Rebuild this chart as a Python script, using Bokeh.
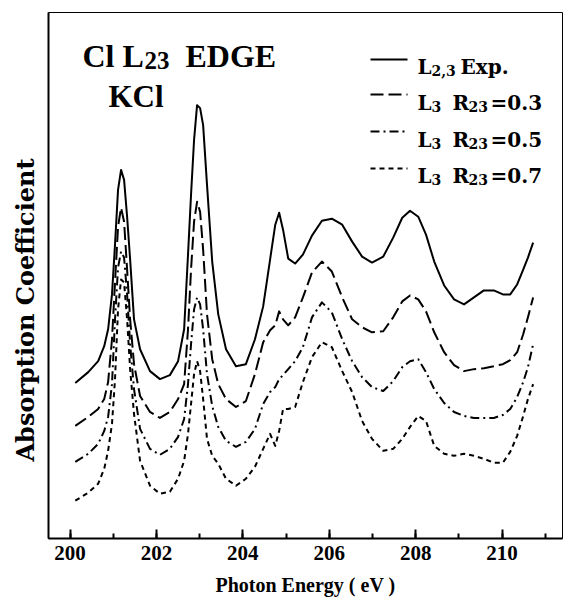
from bokeh.plotting import figure
from bokeh.models import Range1d, SingleIntervalTicker, FixedTicker, Label, Arrow, Title
from bokeh.embed import file_html
from bokeh.resources import INLINE

# ---- data (arbitrary absorption units) ----
energy = [200.12, 200.42, 200.65, 200.79, 200.88, 200.97, 201.04, 201.11, 201.18, 201.25,
          201.32, 201.39, 201.48, 201.62, 201.85, 202.08, 202.31, 202.50, 202.64, 202.73,
          202.80, 202.87, 202.94, 203.01, 203.08, 203.17, 203.29, 203.43, 203.61, 203.84,
          204.07, 204.28, 204.47, 204.63, 204.75, 204.84, 204.93, 205.05, 205.21, 205.39,
          205.60, 205.83, 206.06, 206.30, 206.53, 206.76, 206.99, 207.25, 207.48, 207.69,
          207.87, 208.06, 208.24, 208.43, 208.66, 208.89, 209.12, 209.35, 209.58, 209.81,
          210.02, 210.19, 210.35, 210.49, 210.60, 210.72]

exp_l23 = [156, 167, 178, 193, 210, 245, 295, 350, 370, 360,
           323, 280, 220, 190, 168, 160, 164, 178, 210, 285,
           345, 400, 435, 432, 415, 355, 278, 225, 190, 173,
           175, 200, 233, 280, 315, 327, 310, 281, 276, 285,
           304, 319, 321, 315, 298, 283, 277, 283, 302, 322,
           329, 323, 305, 278, 254, 240, 235, 242, 249, 249,
           245, 245, 255, 270, 282, 297]

l3_r03 = [113, 122, 130, 140, 157, 200, 257, 313, 332, 318,
          270, 220, 175, 143, 127, 121, 127, 140, 155, 210,
          270, 318, 338, 328, 290, 225, 180, 155, 140, 132,
          138, 165, 197, 209, 214, 228, 220, 214, 222, 242,
          267, 278, 268, 242, 220, 212, 207, 208, 222, 238,
          244, 240, 228, 207, 187, 174, 168, 170, 171, 173,
          175, 179, 187, 205, 222, 242]

l3_r05 = [77, 85, 95, 108, 122, 155, 220, 272, 288, 282,
          245, 195, 150, 110, 90, 84, 90, 102, 120, 155,
          195, 230, 242, 235, 210, 165, 133, 112, 98, 92,
          97, 110, 135, 147, 152, 160, 164, 170, 178, 192,
          222, 237, 227, 200, 178, 162, 152, 148, 158, 172,
          178, 180, 167, 150, 136, 127, 123, 121, 121, 121,
          124, 130, 142, 157, 172, 195]

l3_r07 = [38, 46, 55, 70, 88, 115, 160, 230, 260, 257,
          220, 170, 125, 78, 53, 45, 47, 60, 78, 105,
          135, 165, 178, 168, 140, 100, 83, 75, 60, 53,
          60, 72, 90, 105, 93, 108, 130, 130, 132, 157,
          182, 197, 192, 168, 147, 118, 100, 88, 90, 100,
          112, 123, 118, 93, 85, 83, 85, 83, 80, 76,
          76, 87, 103, 123, 140, 155]

# legend texts: (text, main or subscript) pieces
legend_rows = [
    [("L", "main"), ("2,3", "sub"), ("Exp.", "main")],
    [("L", "main"), ("3", "sub"), ("R", "main"), ("23", "sub"), ("=0.3", "main")],
    [("L", "main"), ("3", "sub"), ("R", "main"), ("23", "sub"), ("=0.5", "main")],
    [("L", "main"), ("3", "sub"), ("R", "main"), ("23", "sub"), ("=0.7", "main")],
]
series_dash = ["solid", "13 5", "9 4 2 4", "5 4"]
x_title = "Photon Energy ( eV )"
y_title = "Absorption Coefficient"

SERIF = "Liberation Serif"
WIDE = "DejaVu Serif"

p = figure(width=564, height=598, output_backend="svg", toolbar_location=None,
           x_range=Range1d(199.5, 211.40), y_range=Range1d(0, 528),
           min_border_left=48, min_border_right=2, min_border_top=12, min_border_bottom=58)
p.grid.visible = False
p.outline_line_color = "black"
p.outline_line_width = 1
p.background_fill_color = "white"
p.border_fill_color = "white"

common = dict(line_color="black", line_width=2, line_join="round")
for ys, dash in zip([exp_l23, l3_r03, l3_r05, l3_r07], series_dash):
    p.line(energy, ys, line_dash=dash, **common)

xa = p.xaxis[0]
xa.ticker = SingleIntervalTicker(interval=2, num_minor_ticks=2)
xa.major_tick_in = 9
xa.major_tick_out = 0
xa.minor_tick_in = 5
xa.minor_tick_out = 0
xa.axis_line_width = 2
xa.major_tick_line_width = 2
xa.minor_tick_line_width = 2
xa.major_label_text_font = SERIF
xa.major_label_text_font_style = "bold"
xa.major_label_text_font_size = "21px"
xa.major_label_text_color = "black"
xa.major_label_standoff = 7
xa.axis_label = x_title
xa.axis_label_text_font = SERIF
xa.axis_label_text_font_style = "bold"
xa.axis_label_text_font_size = "20px"
xa.axis_label_text_color = "black"
xa.axis_label_standoff = 11

ya = p.yaxis[0]
ya.ticker = FixedTicker(ticks=[])
ya.axis_line_width = 2
ya.major_tick_in = 0
ya.major_tick_out = 0
ya.minor_tick_in = 0
ya.minor_tick_out = 0

p.add_layout(Title(text=y_title, align="left", offset=77, standoff=17,
                   text_font=WIDE, text_font_style="bold", text_font_size="24px",
                   text_color="black"), "left")

def lab(x, y, t, size, font=SERIF):
    p.add_layout(Label(x=x, y=y, x_units="screen", y_units="screen", text=t,
                       text_font=font, text_font_style="bold", text_font_size=size,
                       text_align="left", text_baseline="alphabetic", text_color="black"))

# title "Cl L23 EDGE" / "KCl"
lab(34, 483, "Cl L", "32px")
lab(96, 478, "23", "25px")
lab(137, 483, "EDGE", "32px")
lab(60, 442, "KCl", "31px")

# legend (samples + texts)
line_y = [479, 444, 407, 370]
base_y = [472, 436, 399, 363]
piece_x = [[369, 383, 412], [369, 383, 404, 420, 442]]
for i, (row, dash) in enumerate(zip(legend_rows, series_dash)):
    p.add_layout(Arrow(x_start=322, y_start=line_y[i], x_end=359, y_end=line_y[i],
                       start_units="screen", end_units="screen", end=None,
                       line_color="black", line_width=2, line_dash=dash))
    xs = piece_x[0] if i == 0 else piece_x[1]
    for (t, kind), x in zip(row, xs):
        if kind == "main":
            lab(x, base_y[i], t, "20px", WIDE)
        else:
            lab(x, base_y[i] - 4, t, "14px", WIDE)

open("out.html", "w").write(file_html(p, INLINE))
